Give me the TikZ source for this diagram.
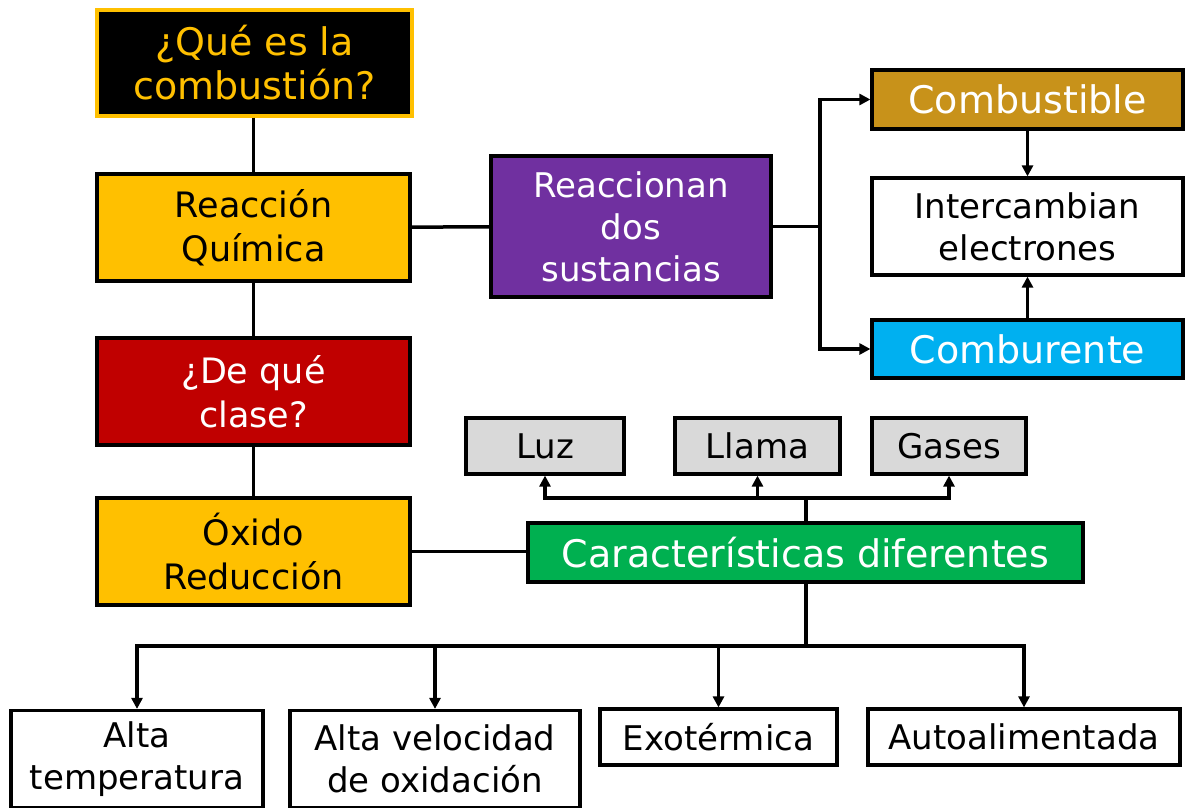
\documentclass[tikz,border=0pt]{standalone}
\usepackage{fontspec}
\setmainfont{DejaVu Sans}
\usetikzlibrary{arrows.meta}
\definecolor{cOrange}{HTML}{FFC000}
\definecolor{cRed}{HTML}{C00000}
\definecolor{cPurple}{HTML}{7030A0}
\definecolor{cGold}{HTML}{C8921A}
\definecolor{cBlue}{HTML}{00B0F0}
\definecolor{cGreen}{HTML}{00B050}
\definecolor{cGray}{HTML}{D9D9D9}
\begin{document}
\begin{tikzpicture}[x=1pt,y=-1pt,
  box/.style={draw=black, line width=3.2pt, align=center, inner sep=0pt, font=\fontsize{35}{44}\selectfont},
  big/.style={font=\fontsize{38}{44}\selectfont},
  small/.style={font=\fontsize{34}{42}\selectfont},
  link/.style={line width=3.5pt, draw=black},
  arr/.style={link, -{Triangle[length=11pt,width=11pt]}}]
\fill[white] (0,0) rectangle (1186,808);
\useasboundingbox (0,0) rectangle (1186,808);

\node[box, big, fill=black, draw=cOrange, text=cOrange, minimum width=315pt, minimum height=106pt] (q1) at (254.5,63) {¿Qué es la\\combustión?};
\node[box, fill=cOrange, minimum width=313pt, minimum height=107pt] (rq) at (253.5,227.5) {Reacción\\Química};
\node[box, fill=cRed, text=white, minimum width=313pt, minimum height=107pt] (dq) at (253.5,391.5) {¿De qué\\clase?};
\node[box, fill=cOrange, minimum width=313pt, minimum height=107pt] (ox) at (253.5,551.5) {Óxido\\Reducción};
\node[box, small, fill=cPurple, text=white, minimum width=280pt, minimum height=141pt] (rds) at (631,226.5) {Reaccionan\\dos\\sustancias};
\node[box, big, fill=cGold, text=white, minimum width=311pt, minimum height=59pt] (cbl) at (1027.5,99.5) {Combustible};
\node[box, small, fill=white, minimum width=311pt, minimum height=97pt] (ie) at (1027.5,226.5) {Intercambian\\electrones};
\node[box, big, fill=cBlue, text=white, minimum width=311pt, minimum height=58pt] (cbr) at (1027.5,349) {Comburente};
\node[box, small, fill=cGray, minimum width=158pt, minimum height=56pt] (luz) at (545,446) {Luz};
\node[box, small, fill=cGray, minimum width=165pt, minimum height=56pt] (llama) at (757.5,446) {Llama};
\node[box, small, fill=cGray, minimum width=154pt, minimum height=56pt] (gases) at (949,446) {Gases};
\node[box, big, fill=cGreen, text=white, minimum width=555pt, minimum height=59pt] (cd) at (805.5,552.5) {Características diferentes};
\node[box, small, fill=white, minimum width=252pt, minimum height=97pt] (at) at (137,759) {Alta\\temperatura};
\node[box, small, fill=white, minimum width=290pt, minimum height=97pt] (av) at (435,759) {Alta velocidad\\de oxidación};
\node[box, small, fill=white, minimum width=237pt, minimum height=56pt] (ex) at (718.5,737) {Exotérmica};
\node[box, small, fill=white, minimum width=312pt, minimum height=56pt] (aa) at (1024,737) {Autoalimentada};

\coordinate (sp) at (820,226.5);
\coordinate (up) at (806,498);
\coordinate (dn) at (806,646);

\draw[link] (q1.south -| rq.north) -- (rq.north);
\draw[link] (rq) -- (dq);
\draw[link] (dq) -- (ox);
\draw[link] (rq) -- (rds);
\draw[link] (rds) -- (sp);
\draw[arr] (sp) |- (cbl.west);
\draw[arr] (sp) |- (cbr.west);
\draw[arr] (cbl) -- (ie);
\draw[arr] (cbr) -- (ie);
\draw[link] (ox) -- (ox.east -| cd.west);
\draw[link] (cd.north -| up) -- (up);
\draw[arr] (up) -| (luz.south);
\draw[arr] (up) -| (llama.south);
\draw[arr] (up) -| (gases.south);
\draw[link] (cd.south -| dn) -- (dn);
\draw[arr] (dn) -| (at.north);
\draw[arr] (dn) -| (av.north);
\draw[arr] (dn) -| (ex.north);
\draw[arr] (dn) -| (aa.north);
\end{tikzpicture}
\end{document}
